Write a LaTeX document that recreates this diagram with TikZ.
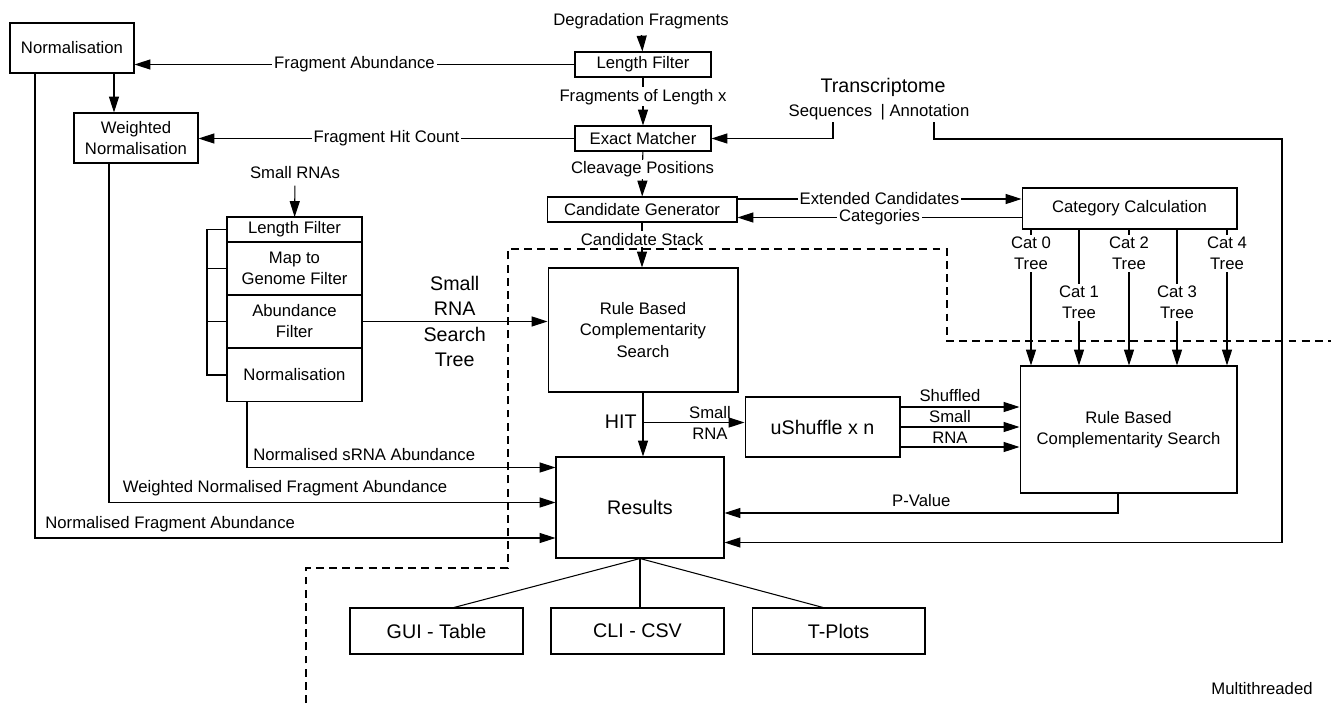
\documentclass[tikz,border=0pt]{standalone}
\usepackage{fontspec}
\setmainfont{Liberation Sans}
\usepackage{tikz}
\usetikzlibrary{arrows.meta}
\usetikzlibrary{positioning, calc}

\begin{document}
\begin{tikzpicture}[x=0.02cm, y=-0.02cm, >={Triangle[length=9pt, width=5.7pt]},
    font=\fontsize{9.5}{12}\selectfont, line width=0.6pt,
    box/.style={draw, align=center, inner sep=0pt},
    row/.style={box, minimum width=2.7cm, outer sep=0pt},
    big/.style={font=\fontsize{11.2}{14.5}\selectfont},
    lbl/.style={fill=white, inner sep=1pt},
    border/.style={line width=1.3pt, dash pattern=on 4.5pt off 3pt}]
    \useasboundingbox (0,0) rectangle (1331,703);

    \node[box, minimum width=2.48cm, minimum height=1cm] (norm) at (72,48) {Normalisation};
    \node[box, minimum width=2.48cm, minimum height=1cm] (wnorm) at (136,138) {Weighted\\Normalisation};
    \node (degr) at (641,21) {Degradation Fragments};
    \node[box, minimum width=2.72cm, minimum height=0.5cm] (lenf) at (643,64.5) {Length Filter};
    \node[box, minimum width=2.72cm, minimum height=0.5cm] (exact) at (643,138.5) {Exact Matcher};
    \node[box, minimum width=3.8cm, minimum height=0.5cm] (candgen) at (642,209.5) {Candidate Generator};
    \node[big] (transc) at (883,87) {Transcriptome};
    \node (seqann) at (879,112) {Sequences\enspace|\ Annotation};
    \node[box, minimum width=4.3cm, minimum height=0.82cm] (catcalc) at (1129.5,208.5) {Category Calculation};

    \node (srna) at (295,173) {Small RNAs};
    \node[row, minimum height=0.5cm] (sf1) at (294.5,229.5) {Length Filter};
    \node[row, minimum height=1.06cm, below=0pt of sf1] (sf2) {Map to\\Genome Filter};
    \node[row, minimum height=1.06cm, below=0pt of sf2] (sf3) {Abundance\\Filter};
    \node[row, minimum height=1.08cm, below=0pt of sf3] (sf4) {Normalisation};

    \node[box, minimum width=3.8cm, minimum height=2.48cm] (rbcs) at (643,330) {Rule Based\\Complementarity\\Search};
    \node[box, big, minimum width=3.1cm, minimum height=1.2cm] (ushuf) at (822.5,427) {uShuffle x n};
    \node[box, minimum width=4.34cm, minimum height=2.54cm] (rbcs2) at (1128.5,429.5) {Rule Based\\Complementarity Search};
    \node[box, big, minimum width=3.36cm, minimum height=2.02cm] (results) at (640,507.5) {Results};
    \node[box, big, minimum width=3.46cm, minimum height=0.92cm] (gui) at (436.5,631) {GUI - Table};
    \node[box, big, minimum width=3.46cm, minimum height=0.92cm] (cli) at (637.5,631) {CLI - CSV};
    \node[box, big, minimum width=3.46cm, minimum height=0.92cm] (tplots) at (838.5,631) {T-Plots};
    \node (mthread) at (1262,689) {Multithreaded};

    \draw[->] (degr) -- (lenf);
    \draw[->] (lenf) -- node[lbl, pos=0.4] {Fragments of Length x} (exact);
    \draw[->] (exact) -- node[lbl, pos=0.39] {Cleavage Positions} (candgen);
    \draw[->] (candgen.south) -- node[lbl, pos=0.37] {Candidate Stack} (candgen.south |- rbcs.north);
    \draw[->] (lenf.west) -- node[lbl] {Fragment Abundance} (norm.east |- lenf.west);
    \draw[->] (exact.west) -- node[lbl] {Fragment Hit Count} (wnorm.east |- exact.west);
    \draw[->] ([xshift=0.84cm]norm.south) -- ([xshift=0.84cm]norm.south |- wnorm.north);

    \coordinate (seqout) at (833,122);
    \coordinate (annout) at (934,122);
    \coordinate (annturn) at (1282,139);
    \draw[->] (seqout) |- (exact.east);
    \draw[->] (annout) |- (annturn) |- ([yshift=-0.7cm]results.east);

    \draw[->] ([yshift=0.21cm]candgen.east) -- node[lbl] {Extended Candidates} ([yshift=0.21cm]candgen.east -| catcalc.west);
    \draw[->] ([yshift=-0.18cm]catcalc.west) -- node[lbl] {Categories} ([yshift=-0.18cm]catcalc.west -| candgen.east);
    \foreach \i/\x/\p in {0/1031/0.175, 1/1079/0.536, 2/1129/0.175, 3/1177/0.536, 4/1227/0.175}
        \draw[->] (catcalc.south -| \x,0) -- node[lbl, pos=\p, align=center] {Cat \i\\Tree} (rbcs2.north -| \x,0);

    \draw[->] (srna) -- (sf1);
    \draw (sf1.west) -- ++(-20,0) |- (sf4.west);
    \draw (sf2.west) -- ++(-20,0);
    \draw (sf3.west) -- ++(-20,0);
    \draw[->] (sf3.east) -- node[big, align=center] {Small\\RNA\\Search\\Tree} (rbcs.west |- sf3.east);

    \draw[->] ([xshift=-0.95cm]sf4.south) |- node[pos=0.5, above right] {Normalised sRNA Abundance} ([yshift=0.8cm]results.west);
    \draw[->] ([xshift=-0.54cm]wnorm.south) |- node[pos=0.5, above right, xshift=0.15cm] {Weighted Normalised Fragment Abundance} ([yshift=0.1cm]results.west);
    \draw[->] ([xshift=-0.74cm]norm.south) |- node[pos=0.5, above right, xshift=0.08cm] {Normalised Fragment Abundance} ([yshift=-0.61cm]results.west);

    \draw[->] (rbcs.south) -- node[big, left, pos=0.46] {HIT} (rbcs.south |- results.north);
    \coordinate (hitsplit) at ([yshift=-0.6cm]rbcs.south);
    \draw[->] (hitsplit) -- node[pos=0.66, align=center] {Small\\RNA} (hitsplit -| ushuf.west);
    \foreach \s in {0.4, 0, -0.4}
        \draw[->] ([yshift=\s cm]ushuf.east) -- ([yshift=\s cm]ushuf.east -| rbcs2.west);
    \node[align=center] (shuflbl) at (950,416.5) {Shuffled\\Small\\RNA};
    \draw[->] ([xshift=-0.21cm]rbcs2.south) |- node[pos=0.75, above] {P-Value} ([yshift=-0.11cm]results.east);

    \draw (results.south) -- ([xshift=0.35cm]gui.north);
    \draw (results.south) -- (results.south |- cli.north);
    \draw (results.south) -- ([xshift=-0.31cm]tplots.north);

    \draw[border] (306,703) -- (306,568) -- (508,568) -- (508,249) -- (947,249) -- (947,341) -- (1331,341);
\end{tikzpicture}
\end{document}
